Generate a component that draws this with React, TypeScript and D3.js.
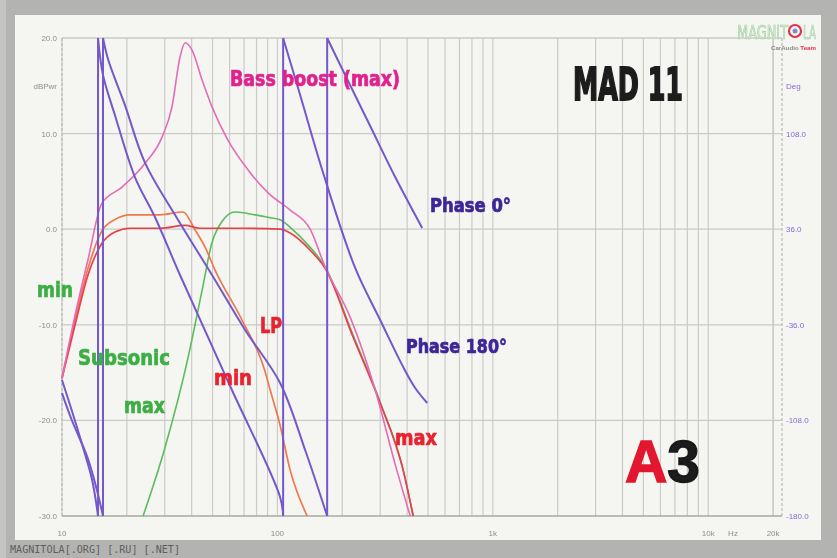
import React from "react";
import * as d3 from "d3";

// ---- Data (frequency in Hz, level in dB / phase in degrees) ----
const bassBoostMax: [number, number][] = [
  [10, -15.6], [11.5, -9.0], [13.2, -3.2], [15.3, 2.7], [19.0, 4.4], [24.3, 6.9],
  [29.1, 9.6], [32.4, 12.8], [35.3, 18.0], [37.3, 19.5], [40.2, 18.7], [44.7, 15.6],
  [49.7, 12.8], [59.0, 9.3], [73.1, 6.2], [90.5, 3.8], [114.6, 2.0], [141.9, 0.0],
  [166.6, -3.95], [217.6, -9.2], [284.3, -16.8], [352.2, -24.6], [413.5, -30],
];

const lpMax: [number, number][] = [
  [10, -15.6], [11.5, -10.0], [13.2, -4.8], [15.3, -1.5], [17.6, -0.3], [20.7, 0.1],
  [28.5, 0.1], [37.3, 0.4], [43.7, 0.1], [67.1, 0.1], [102.9, 0.0], [114.6, -0.4],
  [141.9, -2.2], [166.6, -4.1], [224.7, -11.3], [300, -18.2], [383.6, -25.2], [426.9, -30],
];

const lpMin: [number, number][] = [
  [10, -15.6], [11.5, -9.5], [13.2, -4.1], [15.3, -0.2], [17.6, 1.0], [20.7, 1.5],
  [28.5, 1.5], [36.5, 1.8], [41.5, -0.1], [46.2, -1.9], [51.4, -4.3], [68.5, -9.5],
  [87.7, -14.9], [92.5, -16.8], [102.9, -20.5], [114.6, -25.2], [137.4, -30],
];

const subsonicMax: [number, number][] = [
  [23.8, -30], [30.1, -22.8], [38.5, -13.4], [44.7, -6.4], [49.7, -1.4], [55.3, 0.8],
  [63.6, 1.8], [78.8, 1.5], [92.5, 1.2], [102.9, 1.0], [114.6, 0.2], [141.9, -1.9],
  [166.6, -3.95], [224.7, -11.1], [300, -18.1], [383.6, -25.2], [426.9, -30],
];

// phase curves, each a list of wrapped segments
const phase180: [number, number][][] = [
  [[10, -77.6], [10.9, -96.4], [12.5, -128], [13.8, -152.9], [14.7, -180]],
  [[14.7, 180], [15.5, 152.1], [17.6, 122], [21.8, 75.3], [27.0, 45.2], [35.3, 1.5],
   [60.3, -82.1], [102.9, -165.7], [106.3, -180]],
  [[106.3, 180], [127.5, 137.1], [163.1, 78.3], [229.6, 6.8], [300, -32.4],
   [383.6, -67.8], [436.1, -83.6], [495.9, -94.9]],
];

const phase0: [number, number][][] = [
  [[10, -87.4], [11.1, -107.7], [13.1, -135.5], [14.4, -158.1], [15.5, -180]],
  [[15.5, 180], [16.4, 163.4], [19.6, 129.5], [24.3, 85.9], [34.6, 42.9], [49.7, 1.5],
   [70.8, -39.9], [102.9, -79.8], [134.5, -130.3], [170.2, -180]],
  [[170.2, 180], [206.3, 152.1], [269.6, 113.7], [352.2, 75.3], [470, 36.9]],
];

const dbTicks = [20, 10, 0, -10, -20, -30];
const dbTickLabels = ["20.0", "10.0", "0.0", "-10.0", "-20.0", "-30.0"];
const degTicks = [108, 36, -36, -108, -180];
const degTickLabels = ["108.0", "36.0", "-36.0", "-108.0", "-180.0"];
const freqLabels: [number, string][] = [[10, "10"], [100, "100"], [1000, "1k"], [10000, "10k"], [20000, "20k"]];

const W = 837, H = 558;
const x = d3.scaleLog().domain([10, 22000]).range([62, 782]);
const yDb = d3.scaleLinear().domain([-30, 20]).range([516, 38]);
const yDeg = d3.scaleLinear().domain([-180, 180]).range([516, 38]);

const dbLine = d3.line<[number, number]>().x(d => x(d[0])).y(d => yDb(d[1])).curve(d3.curveMonotoneX);
const degLine = d3.line<[number, number]>().x(d => x(d[0])).y(d => yDeg(d[1])).curve(d3.curveCatmullRom.alpha(0.5));

function phasePath(segs: [number, number][][]) {
  let p = "";
  segs.forEach((s, i) => {
    p += degLine(s) || "";
    if (i < segs.length - 1) {
      const last = s[s.length - 1];
      const next = segs[i + 1][0];
      p += `M${x(last[0])},${yDeg(last[1])}L${x(next[0])},${yDeg(next[1])}`;
    }
  });
  return p;
}

const gridFreqs: number[] = [];
for (const dec of [10, 100, 1000, 10000]) {
  for (let k = 1; k <= 9; k++) {
    const f = dec * k;
    if (f <= 20000) gridFreqs.push(f);
  }
}
gridFreqs.push(20000);

const labelFont = "'Liberation Sans Narrow', 'DejaVu Sans Condensed', 'Arial Narrow', sans-serif";

export default function App() {
  return (
    <svg width={W} height={H} style={{ position: "absolute", left: 0, top: 0 }}
      fontFamily="'Liberation Sans', Arial, sans-serif">
      <defs>
        <filter id="soft" x="-5%" y="-5%" width="110%" height="110%">
          <feGaussianBlur stdDeviation="0.45" />
        </filter>
      </defs>
      <rect x={0} y={0} width={W} height={H} fill="#b3b3b1" />
      <rect x={0} y={0} width={6} height={H} fill="#c4c4c2" />
      <rect x={15} y={15} width={806} height={525} fill="#f5f5f1" />
      <g filter="url(#soft)">
        {/* grid */}
        {gridFreqs.map(f => (
          <line key={"v" + f} x1={x(f)} x2={x(f)} y1={38} y2={516} stroke="#cbcbc7" strokeWidth={1.2} />
        ))}
        {dbTicks.slice(0, 5).map(t => (
          <line key={"h" + t} x1={62} x2={782} y1={yDb(t)} y2={yDb(t)} stroke="#cacac6" strokeWidth={1.3} />
        ))}
        <line x1={62} x2={62} y1={38} y2={516} stroke="#bdbdb9" strokeWidth={1.3} strokeDasharray="3,2" />
        <line x1={782} x2={782} y1={38} y2={516} stroke="#bdbdb9" strokeWidth={1.3} strokeDasharray="3,2" />
        <line x1={62} x2={782} y1={516} y2={516} stroke="#a9a9a5" strokeWidth={1.6} />

        {/* axis labels */}
        {dbTicks.map((t, i) => (
          <text key={"dl" + t} x={57} y={yDb(t) + 3} fontSize={8} fill="#8e8e8a" textAnchor="end">{dbTickLabels[i]}</text>
        ))}
        <text x={57} y={89} fontSize={8} fill="#8e8e8a" textAnchor="end">dBPwr</text>
        {degTicks.map((t, i) => (
          <text key={"gl" + t} x={786} y={yDeg(t) + 3} fontSize={8} fill="#8a6ad6">{degTickLabels[i]}</text>
        ))}
        <text x={786} y={89} fontSize={8} fill="#8a6ad6">Deg</text>
        {freqLabels.map(([f, l]) => (
          <text key={"fl" + f} x={x(f)} y={536} fontSize={8} fill="#8e8e8a" textAnchor="middle">{l}</text>
        ))}
        <text x={733} y={536} fontSize={8} fill="#8e8e8a" textAnchor="middle">Hz</text>

        {/* curves */}
        <path d={dbLine(subsonicMax) || ""} fill="none" stroke="#5cbc5c" strokeWidth={1.6} />
        <path d={dbLine(lpMin) || ""} fill="none" stroke="#f0784c" strokeWidth={1.7} />
        <path d={dbLine(lpMax) || ""} fill="none" stroke="#e8404c" strokeWidth={1.7} />
        <path d={dbLine(bassBoostMax) || ""} fill="none" stroke="#e46cb8" strokeWidth={1.6} />
        <path d={phasePath(phase180)} fill="none" stroke="#7458cc" strokeWidth={2} />
        <path d={phasePath(phase0)} fill="none" stroke="#7458cc" strokeWidth={2} />

        {/* labels */}
        <g fontFamily={labelFont} fontWeight="bold" strokeWidth={0.7}>
          <text x={230} y={86} fontSize={21} fill="#e0228e" stroke="#e0228e" textLength={170} lengthAdjust="spacingAndGlyphs">Bass boost (max)</text>
          <text x={573} y={100} fontSize={44} fill="#1c1c1c" stroke="#1c1c1c" strokeWidth={1.8} textLength={110} lengthAdjust="spacingAndGlyphs">MAD 11</text>
          <text x={430} y={212} fontSize={20} fill="#3d2598" stroke="#3d2598" textLength={81} lengthAdjust="spacingAndGlyphs">Phase 0°</text>
          <text x={406} y={353} fontSize={20} fill="#3d2598" stroke="#3d2598" textLength={101} lengthAdjust="spacingAndGlyphs">Phase 180°</text>
          <text x={37} y={297} fontSize={22} fill="#3cae44" stroke="#3cae44" textLength={36} lengthAdjust="spacingAndGlyphs">min</text>
          <text x={78} y={365} fontSize={22} fill="#3cae44" stroke="#3cae44" textLength={92} lengthAdjust="spacingAndGlyphs">Subsonic</text>
          <text x={124} y={413} fontSize={22} fill="#3cae44" stroke="#3cae44" textLength={41} lengthAdjust="spacingAndGlyphs">max</text>
          <text x={260} y={333} fontSize={22} fill="#e8222e" stroke="#e8222e" textLength={22} lengthAdjust="spacingAndGlyphs">LP</text>
          <text x={214} y={385} fontSize={22} fill="#e8222e" stroke="#e8222e" textLength={38} lengthAdjust="spacingAndGlyphs">min</text>
          <text x={395} y={445} fontSize={22} fill="#e8222e" stroke="#e8222e" textLength={42} lengthAdjust="spacingAndGlyphs">max</text>
        </g>
        <text x={625} y={482} fontSize={60} fontWeight="bold" fontFamily="'Liberation Sans', Arial, sans-serif"
          strokeWidth={1.5} textLength={75} lengthAdjust="spacingAndGlyphs">
          <tspan fill="#e2182e" stroke="#e2182e">A</tspan><tspan fill="#1a1a1a" stroke="#1a1a1a">3</tspan>
        </text>

        {/* logo */}
        <text x={788} y={39} fontSize={20} fontFamily={labelFont} fill="#dcefdc" stroke="#9fcf9f" strokeWidth={0.7}
          textAnchor="end" textLength={51} lengthAdjust="spacingAndGlyphs">MAGNIT</text>
        <circle cx={795} cy={31} r={6} fill="#f5f5f1" stroke="#e0324a" strokeWidth={2.2} />
        <circle cx={795} cy={31} r={2.5} fill="#7b8fd0" />
        <text x={803} y={39} fontSize={20} fontFamily={labelFont} fill="#dcefdc" stroke="#9fcf9f" strokeWidth={0.7}
          textLength={13} lengthAdjust="spacingAndGlyphs">LA</text>
        <text x={771} y={50} fontSize={6} fontWeight="bold" textLength={45} lengthAdjust="spacingAndGlyphs">
          <tspan fill="#8a8a8a">CarAudio </tspan><tspan fill="#e0324a">Team</tspan>
        </text>
      </g>
      <text x={10} y={553} fontSize={10} fontFamily="'DejaVu Sans Mono', monospace" fill="#5e5e5e"
        textLength={170} lengthAdjust="spacingAndGlyphs">MAGNITOLA[.ORG] [.RU] [.NET]</text>
    </svg>
  );
}
